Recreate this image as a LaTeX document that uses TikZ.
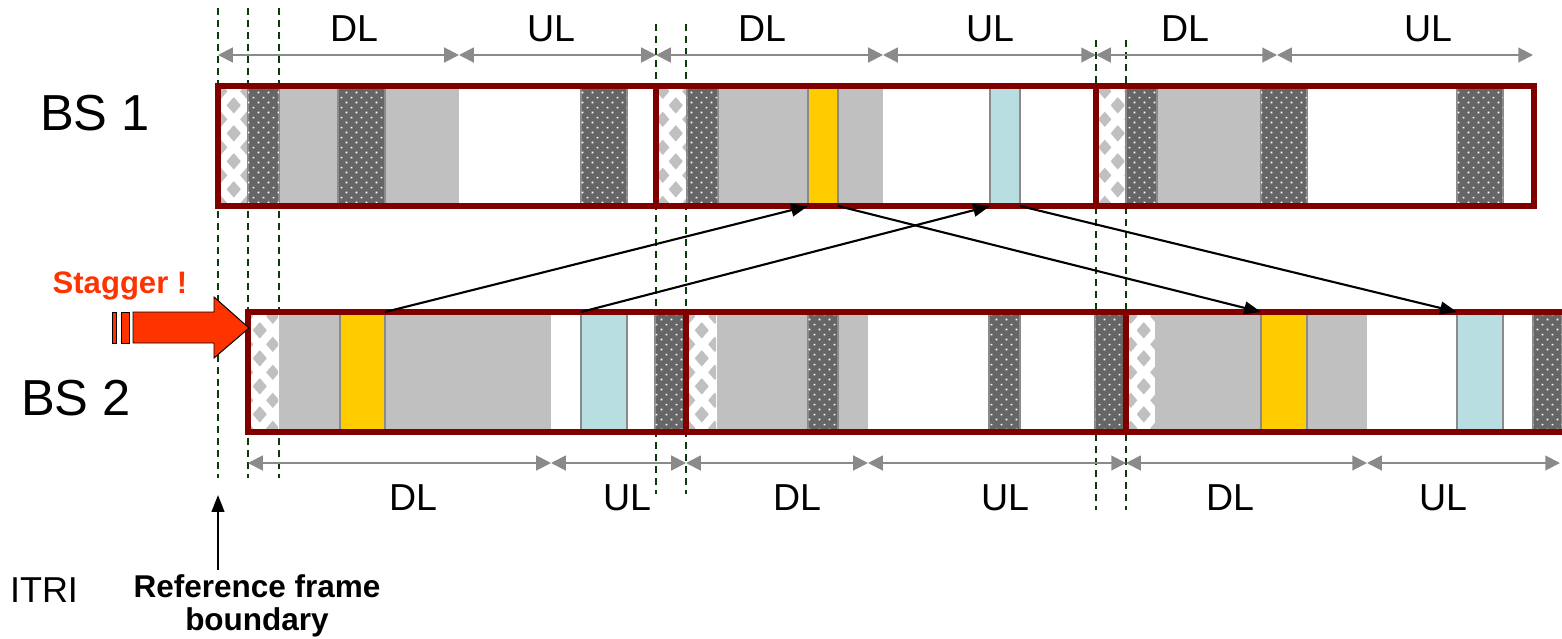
\documentclass[tikz,border=0pt]{standalone}
\usepackage{fontspec}
\setmainfont{Liberation Sans}
\usetikzlibrary{arrows.meta,positioning,patterns,fit}
\definecolor{frred}{HTML}{800000}
\definecolor{slotgray}{HTML}{C0C0C0}
\definecolor{edgegray}{HTML}{8A8A8A}
\definecolor{ctlgray}{HTML}{666666}
\definecolor{pilotyel}{HTML}{FFCC00}
\definecolor{pilotcyan}{HTML}{B8DEE2}
\definecolor{bndgreen}{HTML}{0B3A0B}
\definecolor{stagred}{HTML}{FF3300}

% preamble slots: gray diamonds on white
\newcommand\patdiamond[2]{%
  \pgfpathmoveto{\pgfpoint{#1-4.8pt}{#2}}\pgfpathlineto{\pgfpoint{#1}{#2+5.6pt}}%
  \pgfpathlineto{\pgfpoint{#1+4.8pt}{#2}}\pgfpathlineto{\pgfpoint{#1}{#2-5.6pt}}\pgfpathclose}
\pgfdeclarepatternformonly{diamondgrid}{\pgfpointorigin}{\pgfpoint{18.5pt}{20pt}}{\pgfpoint{18.5pt}{20pt}}{%
  \patdiamond{0pt}{0pt}\patdiamond{18.5pt}{0pt}\patdiamond{0pt}{20pt}\patdiamond{18.5pt}{20pt}%
  \patdiamond{9.25pt}{10pt}\pgfusepath{fill}}
% control slots: white dots on dark gray
\pgfdeclarepatternformonly{plusgrid}{\pgfpointorigin}{\pgfpoint{7pt}{7pt}}{\pgfpoint{7pt}{7pt}}{%
  \pgfpathrectangle{\pgfpoint{1.2pt}{1.2pt}}{\pgfpoint{1.2pt}{1.2pt}}%
  \pgfpathrectangle{\pgfpoint{4.7pt}{4.7pt}}{\pgfpoint{1.2pt}{1.2pt}}\pgfusepath{fill}}

\tikzset{
  tddframe/.style={draw=frred, line width=3.9pt},
  preslot/.style={fill=white, postaction={pattern=diamondgrid, pattern color=slotgray}},
  ctlslot/.style={fill=ctlgray, draw=edgegray, line width=1pt, postaction={pattern=plusgrid, pattern color=white}},
  dlslot/.style={fill=slotgray},
  pilot/.style={draw=edgegray, line width=1pt, inner sep=0pt, outer sep=0pt},
  yelslot/.style={pilot, fill=pilotyel},
  cyanslot/.style={pilot, fill=pilotcyan},
  bndline/.style={draw=bndgreen, line width=1.4pt, dash pattern=on 5pt off 3.5pt},
  dimarrow/.style={draw=edgegray, line width=1.4pt, {Triangle[length=10.5pt,width=10.5pt]}-{Triangle[length=10.5pt,width=10.5pt]}},
  link/.style={draw=black, line width=1.5pt, -{Triangle[length=12pt,width=9pt]}},
  phase/.style={font=\fontsize{26.7}{30}\selectfont, inner sep=0pt, anchor=base},
  rowlbl/.style={font=\fontsize{36}{40}\selectfont, inner sep=0pt, anchor=base},
  stagbody/.style={fill=stagred, draw=black, line width=0.7pt, line join=miter}
}

\begin{document}
\begin{tikzpicture}[x=0.025cm, y=-0.025cm]
  \useasboundingbox (0,0) rectangle (1562,638);

  % frame boundaries
  \foreach \x in {218,248,279} \draw[bndline] (\x,8) -- (\x,478);
  \foreach \x in {656,686} \draw[bndline] (\x,24) -- (\x,494);
  \foreach \x in {1096,1126} \draw[bndline] (\x,40) -- (\x,510);

  \fill[white] (218,86) rectangle (1534,206);
  \fill[white] (248,312) rectangle (1562,432);

  % BS 1 slots
  \foreach \x in {218,656,1096} \path[preslot] (\x,86) rectangle ++(30,120);
  \foreach \a/\b in {279/338,385/459,718/808,838/883,1157/1261}
    \fill[dlslot] (\a,86) rectangle (\b,206);
  \foreach \a/\b in {248/279,338/385,581/627,687/718,1126/1157,1261/1307,1457/1503}
    \path[ctlslot] (\a,86) rectangle (\b,206);
  \node[yelslot, fit={(808,86) (838,206)}] (yel1) {};
  \node[cyanslot, fit={(990,86) (1020,206)}] (cyan1) {};

  % BS 2 slots
  \foreach \x in {248,686,1126} \path[preslot] (\x,312) rectangle ++(30,120);
  \foreach \a/\b in {279/340,385/551,717/808,838/868,1155/1261,1307/1367}
    \fill[dlslot] (\a,312) rectangle (\b,432);
  \foreach \a/\b in {655/686,808/838,989/1020,1095/1126,1533/1562}
    \path[ctlslot] (\a,312) rectangle (\b,432);
  \node[yelslot, fit={(340,312) (385,432)}] (yel0) {};
  \node[cyanslot, fit={(581,312) (627,432)}] (cyan0) {};
  \node[yelslot, fit={(1261,312) (1307,432)}] (yel2) {};
  \node[cyanslot, fit={(1457,312) (1503,432)}] (cyan2) {};

  % frames
  \draw[tddframe] (218,86) rectangle (656,206) (656,86) rectangle (1096,206)
    (1096,86) rectangle (1534,206);
  \draw[tddframe] (248,312) rectangle (686,432) (686,312) rectangle (1126,432);
  \draw[tddframe] (1562,312) -- (1126,312) -- (1126,432) -- (1562,432);

  % DL / UL spans
  \foreach \n/\x in {0/218,1/459,2/656,3/883,4/1096,5/1277,6/1533} \coordinate (top\n) at (\x,55);
  \foreach \n/\x in {0/248,1/551,2/686,3/868,4/1126,5/1367,6/1560} \coordinate (bot\n) at (\x,463);
  \foreach \i [count=\j] in {0,...,5} {
    \draw[dimarrow] (top\i) -- (top\j);
    \draw[dimarrow] (bot\i) -- (bot\j);
  }
  \foreach \x/\t [count=\k] in {354/DL,551/UL,762/DL,990/UL,1185/DL,1428/UL}
    \node[phase] (toplbl\k) at (\x,42) {\t};
  \foreach \x/\t [count=\k] in {413/DL,627/UL,797/DL,1005/UL,1230/DL,1443/UL}
    \node[phase] (botlbl\k) at (\x,510) {\t};

  \node[rowlbl] (bs1) at (95,130) {BS 1};
  \node[rowlbl] (bs2) at (76,415) {BS 2};

  % stagger
  \draw[stagbody] (133,312) -- (214,312) -- (214,297) -- (249,328) -- (214,358)
    -- (214,343) -- (133,343) -- cycle;
  \draw[stagbody] (112,312) rectangle (116,343);
  \draw[stagbody] (121,312) rectangle (129,343);
  \node[font=\bfseries\fontsize{22.1}{26}\selectfont, text=stagred, inner sep=0pt, anchor=base]
    (stagger) at (120,293) {Stagger !};

  % mappings
  \draw[link] (yel0.north east) -- (yel1.south west);
  \draw[link] (cyan0.north west) -- (cyan1.south west);
  \draw[link] (yel1.south east) -- (yel2.north west);
  \draw[link] (cyan1.south east) -- (cyan2.north west);

  % notes
  \node[font=\fontsize{25.6}{30}\selectfont, inner sep=0pt, anchor=base] (itri) at (44,602) {ITRI};
  \node[font=\bfseries\fontsize{22.4}{24}\selectfont, align=center, inner sep=0pt, anchor=north]
    (refnote) at (257,574) {Reference frame\\boundary};
  \coordinate (reftail) at (218,570);
  \coordinate (refhead) at (218,495);
  \draw[link] (reftail) -- (refhead);
\end{tikzpicture}
\end{document}
